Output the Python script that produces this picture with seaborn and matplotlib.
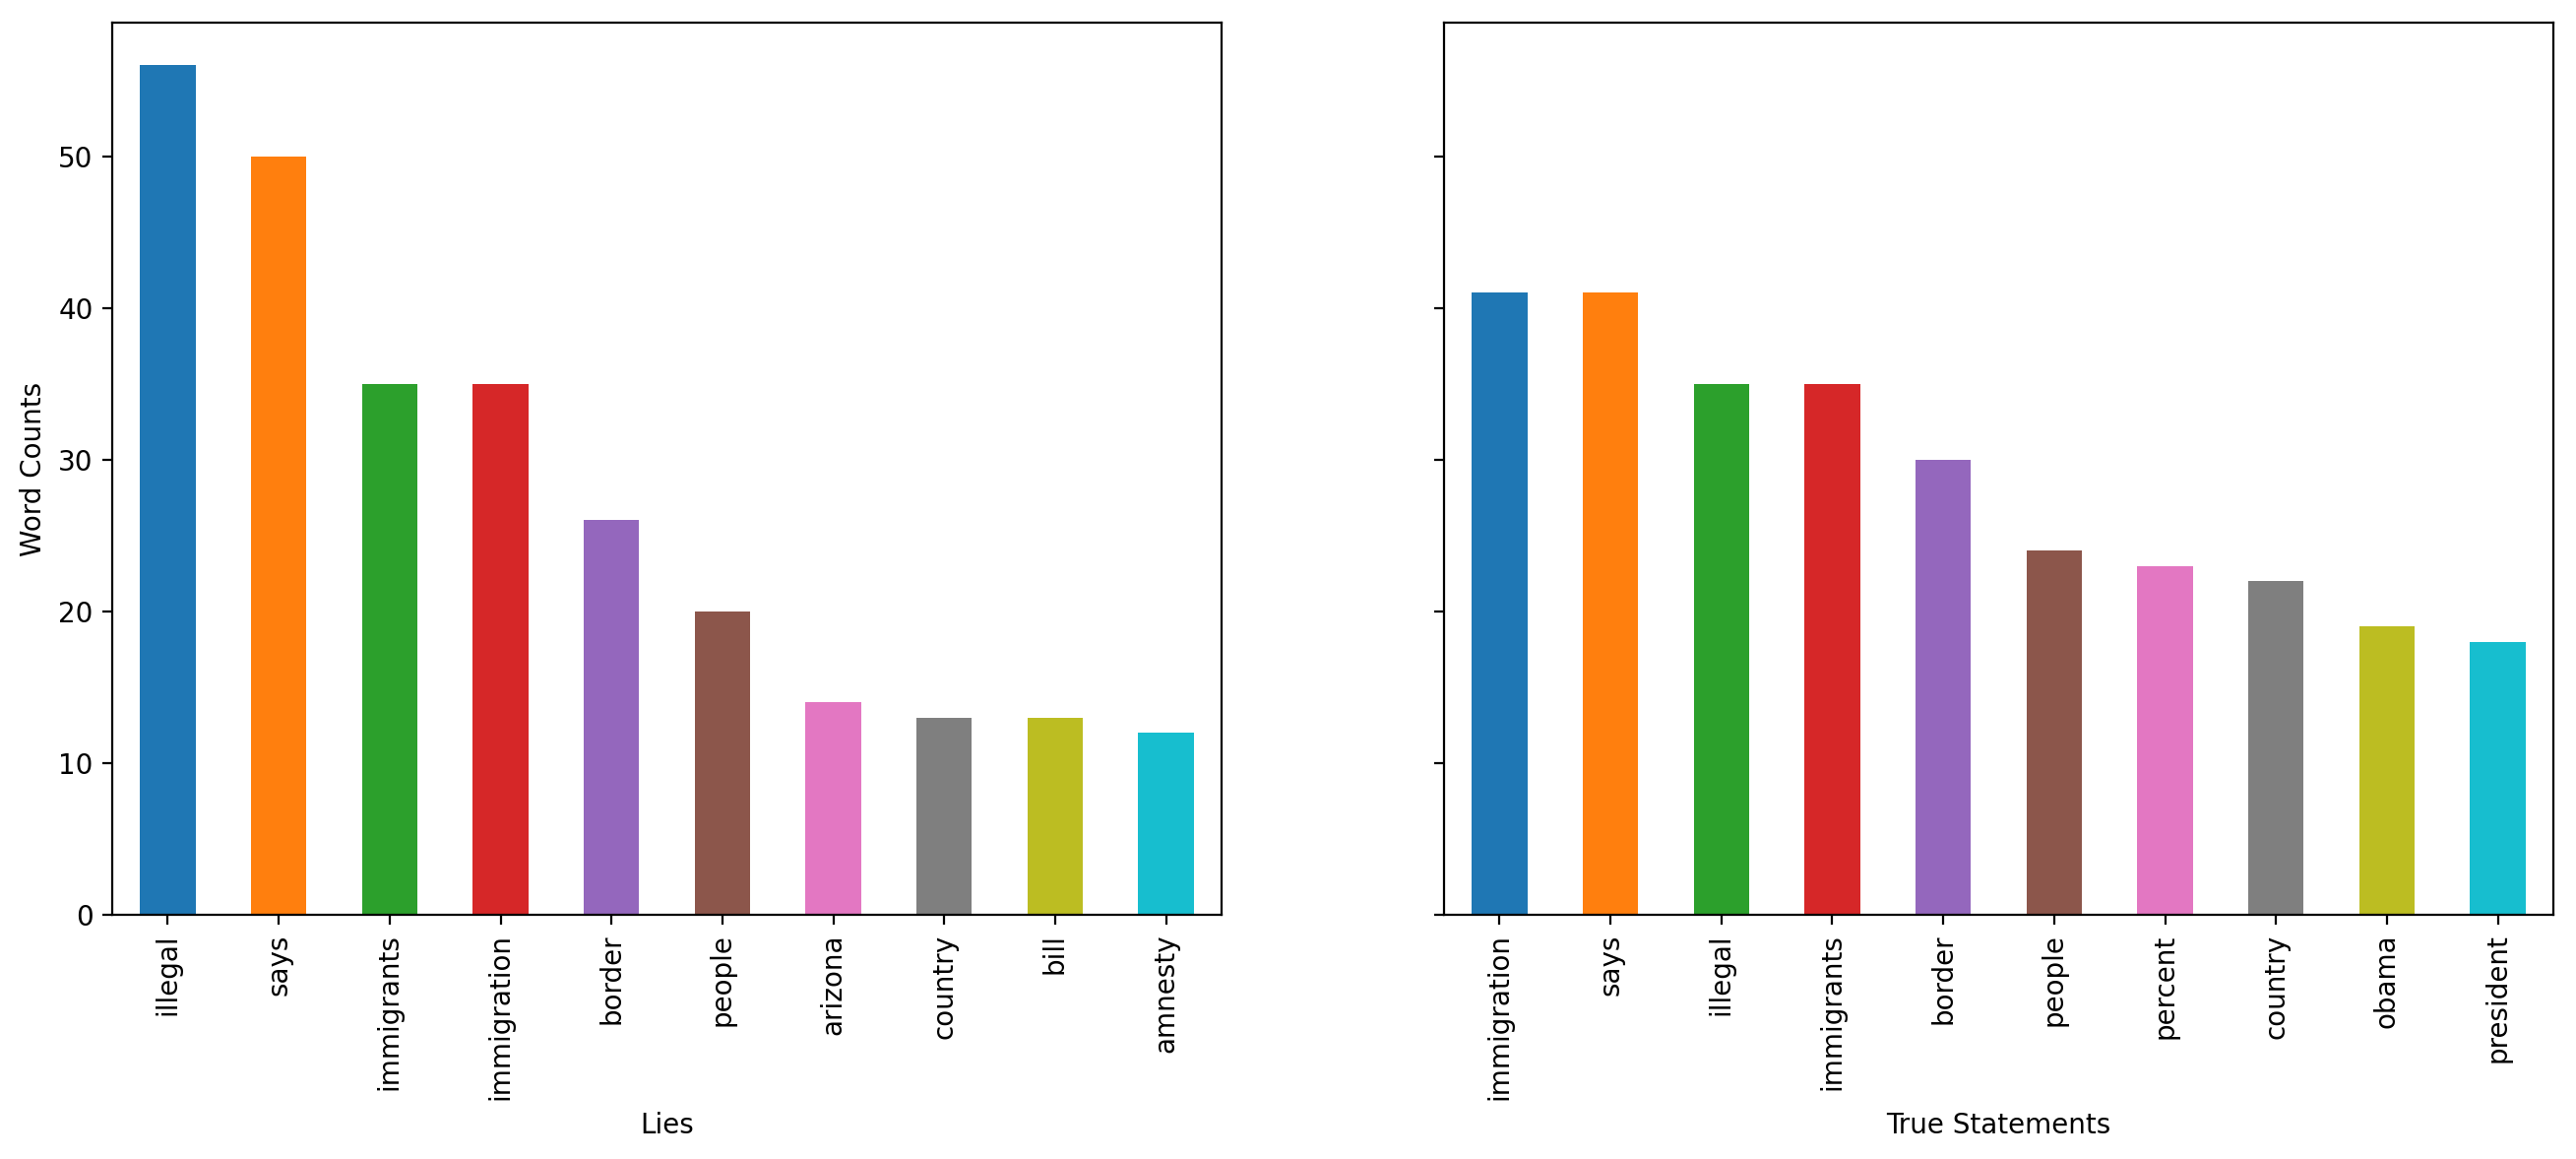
import matplotlib
matplotlib.use("Agg")
import matplotlib.pyplot as plt
import seaborn as sns
import pandas as pd

lies_words = ["illegal", "says", "immigrants", "immigration", "border",
              "people", "arizona", "country", "bill", "amnesty"]
lies_counts = [56, 50, 35, 35, 26, 20, 14, 13, 13, 12]

true_words = ["immigration", "says", "illegal", "immigrants", "border",
              "people", "percent", "country", "obama", "president"]
true_counts = [41, 41, 35, 35, 30, 24, 23, 22, 19, 18]

palette = list(plt.get_cmap("tab10").colors)

plt.rcParams["font.family"] = ["DejaVu Sans"]
plt.rcParams["font.size"] = 10

fig = plt.figure(figsize=(13.085, 5.885), dpi=200)
ax1 = fig.add_axes([0.0436, 0.2107, 0.4306, 0.7698])
ax2 = fig.add_axes([0.5606, 0.2107, 0.4306, 0.7698], sharey=ax1)

df1 = pd.DataFrame({"word": lies_words, "count": lies_counts})
df2 = pd.DataFrame({"word": true_words, "count": true_counts})

sns.barplot(data=df1, x="word", y="count", hue="word", palette=palette,
            width=0.5, saturation=1, legend=False, ax=ax1)
sns.barplot(data=df2, x="word", y="count", hue="word", palette=palette,
            width=0.5, saturation=1, legend=False, ax=ax2)

for ax in (ax1, ax2):
    ax.set_xlim(-0.5, 9.5)
    ax.tick_params(axis="x", labelrotation=90)
    for s in ax.spines.values():
        s.set_visible(True)
        s.set_color("black")
        s.set_linewidth(0.8)

ax1.set_ylim(0, 58.8)
ax1.set_xlabel("Lies")
ax1.set_ylabel("Word Counts")
ax2.set_xlabel("True Statements")
ax2.set_ylabel("")
plt.setp(ax2.get_yticklabels(), visible=False)

fig.savefig("out.png", dpi=200)
